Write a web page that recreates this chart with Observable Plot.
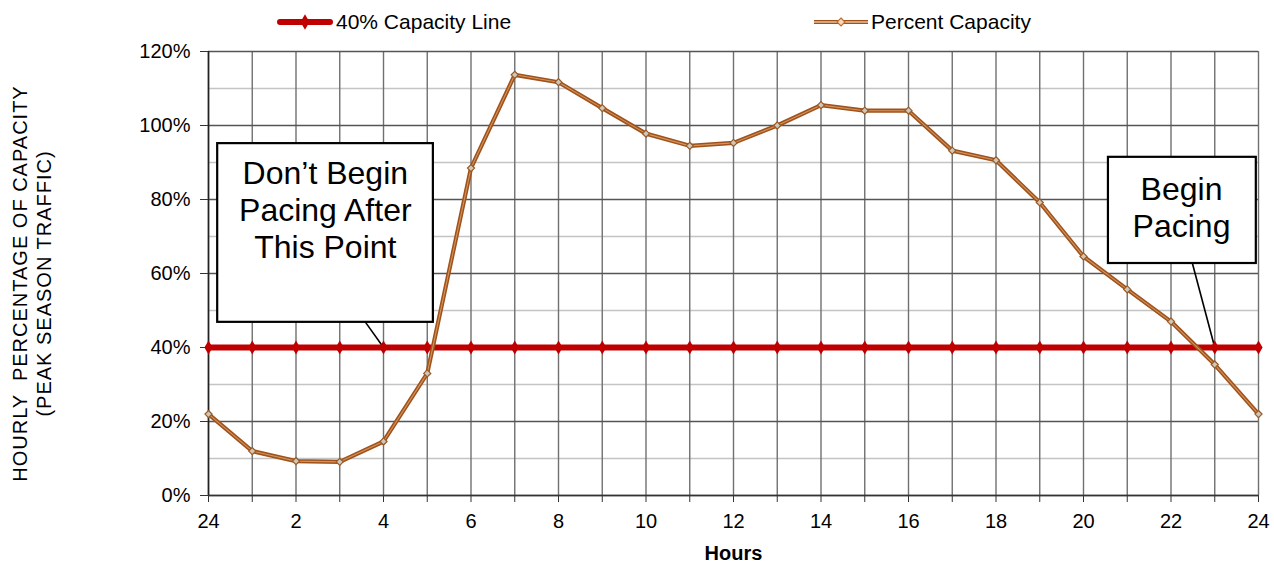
<!DOCTYPE html>
<html><head><meta charset="utf-8">
<script src="https://cdn.jsdelivr.net/npm/d3@7"></script>
<script src="https://cdn.jsdelivr.net/npm/@observablehq/plot@0.6"></script>
<style>
body{margin:0;background:#fff;font-family:"Liberation Sans",Arial,sans-serif;}
#legend{position:relative;height:38px;width:1274px;}
.item{position:absolute;top:0;height:38px;display:flex;align-items:center;font-size:21px;color:#000;white-space:nowrap;}
.item svg{display:block;margin-right:3px;}
</style></head><body>
<div id="legend"></div>
<div id="chart"></div>
<script>
// ---- data ----
const hours = [0,1,2,3,4,5,6,7,8,9,10,11,12,13,14,15,16,17,18,19,20,21,22,23,24];
const percentCapacity = [22,12,9.3,9.1,14.6,33,88.5,113.7,111.7,104.7,97.8,94.5,95.3,100,105.5,104,104,93.2,90.6,79.2,64.6,55.7,47,35.4,22];
const capacityLine = [40,40,40,40,40,40,40,40,40,40,40,40,40,40,40,40,40,40,40,40,40,40,40,40,40];
const xTickLabels = ["24","","2","","4","","6","","8","","10","","12","","14","","16","","18","","20","","22","","24"];
const yTicks = [0,20,40,60,80,100,120];
const yTickLabels = ["0%","20%","40%","60%","80%","100%","120%"];
const minorY = [10,30,50,70,90,110];
const seriesNames = ["40% Capacity Line","Percent Capacity"];
const yTitle = "HOURLY  PERCENTAGE OF CAPACITY\n(PEAK SEASON TRAFFIC)";
const xTitle = "Hours";
// annotations (data units)
const noteText = ["Don’t Begin\nPacing After\nThis Point","Begin\nPacing"];
const noteX1 = [0.21,20.57];
const noteX2 = [5.14,23.95];
const noteY1 = [46.8,62.7];
const noteY2 = [95.1,91.4];
const noteTextX = [2.67,22.24];
const noteTextY = [77.3,78.0];
const leaderX1 = [3.59,22.49];
const leaderY1 = [46.8,62.7];
const leaderX2 = [4,23];
const leaderY2 = [40,40];

// ---- tables ----
const red = hours.map((h,i)=>({h, v: capacityLine[i]}));
const brown = hours.map((h,i)=>({h, v: percentCapacity[i]}));
const notes = noteText.map((t,i)=>({t, x1:noteX1[i], x2:noteX2[i], y1:noteY1[i], y2:noteY2[i], tx:noteTextX[i], ty:noteTextY[i],
  lx1:leaderX1[i], ly1:leaderY1[i], lx2:leaderX2[i], ly2:leaderY2[i]}));

const RED = "#c00000", BROWN = "#a0521a", BROWN_IN = "#dfa571";

// ---- legend ----
const legend = document.getElementById("legend");
function legendItem(left, lineW, kind, name){
  const d = document.createElement("div");
  d.className = "item"; d.style.left = left + "px";
  const s = d3.create("svg").attr("width", lineW).attr("height", 38);
  const mid = lineW/2;
  if(kind === "red"){
    s.append("line").attr("x1",3).attr("x2",lineW-3).attr("y1",22).attr("y2",22).attr("stroke",RED).attr("stroke-width",6).attr("stroke-linecap","round");
    s.append("path").attr("d", d3.symbol(d3.symbolDiamond, 70)()).attr("transform",`translate(${mid},22)`).attr("fill",RED);
  } else {
    s.append("line").attr("x1",0).attr("x2",lineW).attr("y1",22).attr("y2",22).attr("stroke",BROWN).attr("stroke-width",4);
    s.append("line").attr("x1",0).attr("x2",lineW).attr("y1",22).attr("y2",22).attr("stroke","#e8c0a0").attr("stroke-width",1.5);
    s.append("path").attr("d", d3.symbol(d3.symbolDiamond2, 40)()).attr("transform",`translate(${mid},22)`).attr("fill","#f6d8c0").attr("stroke","#c0702a").attr("stroke-width",1.2);
  }
  d.appendChild(s.node());
  const sp = document.createElement("span"); sp.textContent = name; sp.style.marginTop = "6px";
  d.appendChild(sp);
  legend.appendChild(d);
}
legendItem(277, 56, "red", seriesNames[0]);
legendItem(814, 54, "brown", seriesNames[1]);

// ---- chart ----
const chart = Plot.plot({
  width: 1274, height: 525,
  marginTop: 13, marginBottom: 68, marginLeft: 208, marginRight: 16,
  style: {fontFamily: "'Liberation Sans', Arial, sans-serif", fontSize: "20px", color: "#000", background: "#fff", overflow: "visible"},
  x: {domain: [0,24]},
  y: {domain: [0,120]},
  marks: [
    Plot.ruleY(minorY, {stroke: "#c4c4c4", strokeWidth: 1.3}),
    Plot.ruleX(hours, {stroke: "#707070", strokeWidth: 1.4}),
    Plot.ruleY(yTicks, {stroke: "#555", strokeWidth: 1.3}),
    Plot.ruleX([0], {stroke: "#222", strokeWidth: 1.6}),
    Plot.ruleY([0], {stroke: "#333", strokeWidth: 1.6}),
    Plot.axisX({ticks: hours, tickSize: 7, tickPadding: 11, stroke: "#333", tickFormat: d => xTickLabels[hours.indexOf(d)], label: null, fontSize: 20}),
    Plot.axisY({ticks: yTicks, tickSize: 8, tickPadding: 10, stroke: "#333", tickFormat: d => yTickLabels[yTicks.indexOf(d)], label: null, fontSize: 20}),
    Plot.rect(notes, {x1: "x1", x2: "x2", y1: "y1", y2: "y2", fill: "white", stroke: "#000", strokeWidth: 2.2}),
    Plot.link(notes, {x1: "lx1", y1: "ly1", x2: "lx2", y2: "ly2", stroke: "#000", strokeWidth: 1.6}),
    Plot.line(red, {x: "h", y: "v", stroke: RED, strokeWidth: 6}),
    Plot.dot(red, {x: "h", y: "v", symbol: "diamond", r: 4.3, fill: RED, stroke: "none"}),
    Plot.line(brown, {x: "h", y: "v", stroke: BROWN, strokeWidth: 4.2}),
    Plot.line(brown, {x: "h", y: "v", stroke: BROWN_IN, strokeWidth: 1.1, strokeOpacity: 0.8}),
    Plot.dot(brown, {x: "h", y: "v", symbol: "diamond2", r: 3.2, fill: "#cfc7bb", stroke: "#9a5a22", strokeWidth: 1.2}),
    Plot.text(notes, {x: "tx", y: "ty", text: "t", fontSize: 32, lineHeight: 1.16, lineAnchor: "middle", textAnchor: "middle", fill: "#000"}),
    Plot.text([yTitle], {text: d => d, frameAnchor: "left", rotate: -90, dx: -177, dy: 10, lineHeight: 1.2, lineAnchor: "middle", textAnchor: "middle", fontSize: 20, fill: "#000"}),
    Plot.text([xTitle], {text: d => d, frameAnchor: "bottom", dy: 58, lineAnchor: "middle", textAnchor: "middle", fontSize: 20, fontWeight: "bold", fill: "#000"})
  ]
});
document.getElementById("chart").appendChild(chart);
d3.select(chart).selectAll("text").filter(function(){ return this.textContent.startsWith("HOURLY"); })
  .style("white-space", "pre").attr("letter-spacing", "1px");
</script>
</body></html>
